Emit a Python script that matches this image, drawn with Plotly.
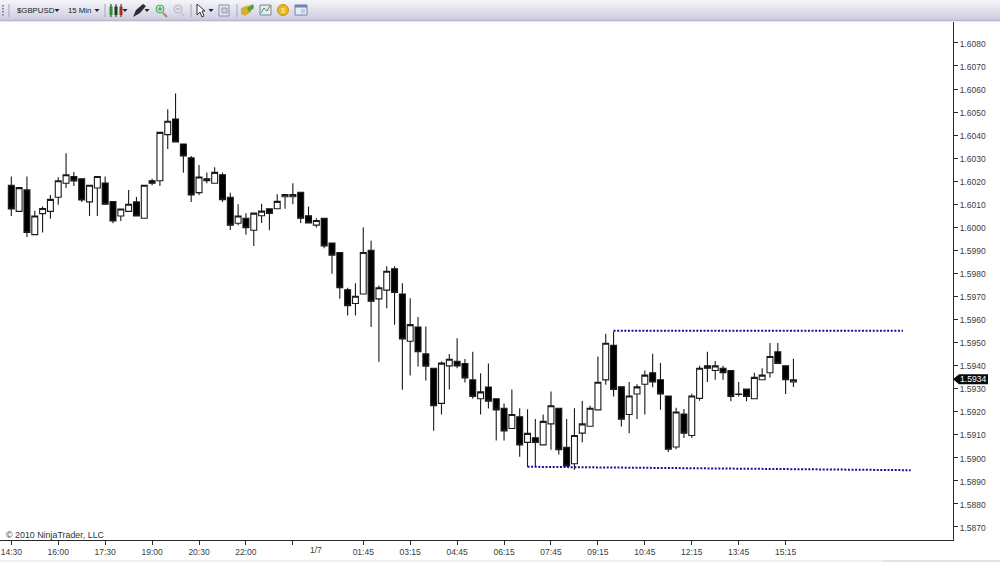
import plotly.graph_objects as go

# One value per 15-minute bar, starting at 14:30
bar_index = list(range(101))
open_prices = [
 1.60182,1.60069,1.60162,1.59968,1.60059,1.60069,1.60130,1.60191,1.60220,1.60210,
 1.60110,1.60170,1.60192,1.60111,1.60049,1.60069,1.60110,1.60039,1.60202,1.60202,
 1.60402,1.60470,1.60361,1.60301,1.60150,1.60210,1.60191,1.60228,1.60130,1.60017,
 1.60039,1.59987,1.60050,1.60080,1.60080,1.60132,1.60132,1.60152,1.60050,1.60009,
 1.60039,1.59931,1.59890,1.59728,1.59669,1.59710,1.59900,1.59689,1.59727,1.59820,
 1.59710,1.59505,1.59567,1.59450,1.59388,1.59235,1.59398,1.59418,1.59408,1.59337,
 1.59255,1.59306,1.59255,1.59214,1.59126,1.59177,1.59066,1.59086,1.59055,1.59146,
 1.59214,1.59045,1.58973,1.59106,1.59136,1.59207,1.59337,1.59487,1.59307,1.59187,
 1.59276,1.59318,1.59368,1.59338,1.59267,1.59046,1.59189,1.59096,1.59257,1.59398,
 1.59378,1.59388,1.59378,1.59276,1.59297,1.59255,1.59338,1.59368,1.59459,1.59398,
 1.59328]
high_prices = [
 1.60220,1.60172,1.60220,1.60071,1.60090,1.60140,1.60217,1.60321,1.60240,1.60210,
 1.60182,1.60220,1.60220,1.60111,1.60079,1.60162,1.60131,1.60182,1.60210,1.60412,
 1.60512,1.60581,1.60361,1.60309,1.60270,1.60238,1.60260,1.60238,1.60150,1.60100,
 1.60061,1.60061,1.60102,1.60080,1.60143,1.60143,1.60191,1.60152,1.60090,1.60039,
 1.60039,1.59931,1.59890,1.59737,1.59757,1.59999,1.59941,1.59747,1.59830,1.59830,
 1.59757,1.59692,1.59610,1.59569,1.59388,1.59417,1.59450,1.59518,1.59428,1.59459,
 1.59366,1.59408,1.59255,1.59235,1.59295,1.59214,1.59210,1.59167,1.59187,1.59287,
 1.59214,1.59167,1.59214,1.59245,1.59225,1.59439,1.59537,1.59547,1.59307,1.59328,
 1.59318,1.59378,1.59451,1.59410,1.59267,1.59216,1.59211,1.59277,1.59398,1.59459,
 1.59419,1.59398,1.59378,1.59328,1.59297,1.59368,1.59388,1.59497,1.59497,1.59398,
 1.59429]
low_prices = [
 1.60049,1.60069,1.59957,1.59968,1.59977,1.60037,1.60098,1.60170,1.60179,1.60110,
 1.60049,1.60049,1.60100,1.60017,1.60027,1.60069,1.60049,1.60039,1.60182,1.60179,
 1.60340,1.60370,1.60237,1.60110,1.60140,1.60191,1.60191,1.60110,1.59988,1.60009,
 1.59967,1.59919,1.60018,1.59987,1.60080,1.60080,1.60100,1.60018,1.60019,1.59999,
 1.59909,1.59798,1.59689,1.59617,1.59617,1.59710,1.59567,1.59416,1.59648,1.59577,
 1.59294,1.59356,1.59395,1.59334,1.59116,1.59187,1.59295,1.59388,1.59326,1.59255,
 1.59187,1.59213,1.59074,1.59074,1.59126,1.59003,1.58960,1.58961,1.59055,1.59034,
 1.59013,1.58960,1.58947,1.59066,1.59136,1.59207,1.59316,1.59265,1.59135,1.59105,
 1.59167,1.59187,1.59305,1.59208,1.59024,1.59036,1.59085,1.59085,1.59247,1.59328,
 1.59338,1.59338,1.59244,1.59265,1.59244,1.59255,1.59338,1.59348,1.59409,1.59276,
 1.59306]
close_prices = [
 1.60079,1.60172,1.59977,1.60049,1.60081,1.60121,1.60202,1.60228,1.60201,1.60118,
 1.60182,1.60220,1.60100,1.60027,1.60079,1.60100,1.60049,1.60182,1.60191,1.60412,
 1.60460,1.60370,1.60309,1.60140,1.60218,1.60202,1.60238,1.60120,1.60009,1.60049,
 1.59998,1.60061,1.60070,1.60060,1.60112,1.60142,1.60142,1.60039,1.60019,1.60029,
 1.59919,1.59879,1.59737,1.59659,1.59700,1.59890,1.59679,1.59737,1.59809,1.59717,
 1.59515,1.59577,1.59459,1.59397,1.59225,1.59410,1.59427,1.59398,1.59346,1.59265,
 1.59285,1.59245,1.59207,1.59116,1.59187,1.59055,1.59105,1.59066,1.59157,1.59225,
 1.59034,1.58964,1.59096,1.59146,1.59214,1.59327,1.59496,1.59296,1.59167,1.59267,
 1.59307,1.59358,1.59328,1.59276,1.59036,1.59198,1.59106,1.59267,1.59388,1.59388,
 1.59398,1.59368,1.59265,1.59274,1.59265,1.59348,1.59358,1.59439,1.59409,1.59338,
 1.59338]

x_tick_positions = [0, 6, 12, 18, 24, 30, 36, 45, 51, 57, 63, 69, 75, 81, 87, 93, 99]
x_tick_labels = ["14:30", "16:00", "17:30", "19:00", "20:30", "22:00", "", "01:45", "03:15",
                 "04:45", "06:15", "07:45", "09:15", "10:45", "12:15", "13:45", "15:15"]
date_label_position = 39
date_label = "1/7"
y_ticks = [1.5870, 1.5880, 1.5890, 1.5900, 1.5910, 1.5920, 1.5930, 1.5940, 1.5950, 1.5960, 1.5970,
           1.5980, 1.5990, 1.6000, 1.6010, 1.6020, 1.6030, 1.6040, 1.6050, 1.6060, 1.6070, 1.6080]

resistance_x = [77, 114]
resistance_y = [1.59550, 1.59550]
support_x = [66, 115]
support_y = [1.58960, 1.58945]
last_price = 1.5934

PLOT_R = 953.0
PLOT_T = 22.0
PLOT_B = 540.3
W, H = 1000, 562
FONT = "Liberation Sans"
TEXT = "#3c3c3c"


def px(x):
    return x / PLOT_R


def py(y):
    return (PLOT_B - y) / (PLOT_B - PLOT_T)


shapes = []
annotations = []


def rect(x0, y0, x1, y1, fill, line=None, lw=1):
    shapes.append(dict(type="rect", xref="paper", yref="paper", x0=px(x0), x1=px(x1),
                       y0=py(y0), y1=py(y1), fillcolor=fill, layer="above",
                       line=dict(color=line or fill, width=lw if line else 0)))


def seg(x0, y0, x1, y1, color, lw=1):
    shapes.append(dict(type="line", xref="paper", yref="paper", x0=px(x0), x1=px(x1),
                       y0=py(y0), y1=py(y1), layer="above", line=dict(color=color, width=lw)))


def poly(points, fill):
    path = "M" + " L".join(f"{px(a):.5f},{py(b):.5f}" for a, b in points) + " Z"
    shapes.append(dict(type="path", xref="paper", yref="paper", path=path, fillcolor=fill,
                       layer="above", line=dict(width=0)))


def circle(cx, cy, r, fill, line=None, lw=1):
    shapes.append(dict(type="circle", xref="paper", yref="paper", x0=px(cx - r), x1=px(cx + r),
                       y0=py(cy + r), y1=py(cy - r), fillcolor=fill, layer="above",
                       line=dict(color=line or fill, width=lw if line else 0)))


def label(x, y, text, size=8.3, color=TEXT, anchor="left"):
    annotations.append(dict(xref="paper", yref="paper", x=px(x), y=py(y), text=text, showarrow=False,
                            xanchor=anchor, yanchor="middle", xshift=0, align="left",
                            borderpad=0, font=dict(family=FONT, size=size, color=color)))


# Toolbar gradient
toolbar_colors = ["#f4f4f8", "#f2f2f7", "#f0f0f6", "#eeeef5", "#ececf4", "#eaeaf3", "#e8e8f1", "#e6e6f0",
                  "#e4e4ef", "#e2e2ee", "#e0e0ec", "#dedeeb", "#dcdcea", "#dadae8", "#d8d8e7", "#d6d6e5",
                  "#d4d4e4", "#d2d2e2", "#cfcfdf", "#c8c8d8", "#b8b8c8", "#e8e8ee"]
for k, c in enumerate(toolbar_colors):
    rect(0, k, W, k + 1, c)

# Bottom strip
rect(0, 560.6, W, H, "#ebebef")
rect(883, 560.6, W, H, "#dcdce4")

# Toolbar contents
for yy in (5, 8, 11, 14):
    rect(2, yy, 4, yy + 1.5, "#8c8c9c")
for sx in (9, 105, 191, 237):
    seg(sx, 4, sx, 17, "#a4a4b6")
label(16, 10.3, "$GBPUSD", 7.8, "#222222")
label(67, 10.3, "15 Min", 7.8, "#222222")
for tx in (57, 97, 125, 147, 211):
    poly([(tx - 2.5, 9), (tx + 2.5, 9), (tx, 12)], "#222222")
# candle icon
for cx, col in ((111, "#2f8f2f"), (116, "#1e3d1e"), (121, "#a53020")):
    seg(cx, 4, cx, 17, "#203020")
    rect(cx - 1.5, 6.5, cx + 1.5, 15, col)
# pen
poly([(133, 17), (136, 10), (143, 4), (146, 6), (140, 13)], "#2c2c34")
# magnifiers
seg(163, 13, 167, 17, "#d07a50", 2)
circle(160, 9, 4, "#b8e6c0", "#5aa070")
seg(158, 9, 162, 9, "#3a9a50")
seg(160, 7, 160, 11, "#3a9a50")
seg(181, 13, 184, 16, "#d0c8cc", 2)
circle(178, 9, 4, "#dfe0e8", "#b8b8c4")
seg(176, 9, 180, 9, "#a8a8b8")
# cursor
poly([(197, 4), (197, 15), (200, 12), (202, 17), (204, 16), (202, 11), (205, 11)], "#ffffff")
shapes[-1]["line"] = dict(color="#303038", width=1)
# box icon
rect(219, 5, 229, 16, "#e4e8f2", "#8090b0")
rect(222, 8, 227, 13, "#c8d0e4", "#a09098")
# folder
poly([(241, 8), (246, 6), (252, 5), (251, 12), (245, 16), (241, 14)], "#d8b030")
poly([(247, 8), (253, 4), (254, 8), (249, 12)], "#50a040")
# chart
rect(260, 5, 271, 15, "#e4ecf0", "#708898")
seg(261, 13, 264, 8, "#30a060")
seg(264, 8, 267, 11, "#30a060")
seg(267, 11, 270, 6, "#c05030")
# coin
circle(283, 10, 5.5, "#e8b820", "#c89010")
label(283, 10.3, "$", 7.5, "#fff2b0", "center")
# window
rect(295, 5, 307, 15, "#e8ecf6", "#7080a8")
rect(295, 5, 307, 7.5, "#6a84c0")
rect(301, 9, 305, 13, "#c0cce0")

# Last price tag
shapes.append(dict(type="path", xref="paper", yref="y", xsizemode="pixel", ysizemode="pixel",
                   xanchor=1, yanchor=last_price, path="M0,0 L6,-5 L35,-5 L35,5 L6,5 Z",
                   fillcolor="#0a0a0a", line=dict(width=0), layer="above"))
annotations.append(dict(xref="paper", yref="y", x=px(959), y=last_price, text=f"{last_price:.4f}",
                        showarrow=False, xanchor="left", yanchor="middle", borderpad=0,
                        font=dict(family=FONT, size=8.6, color="#ffffff")))

# Date label without a tick, and the copyright line
annotations.append(dict(xref="x", yref="paper", x=date_label_position, y=py(550.5), text=date_label,
                        showarrow=False, xanchor="center", yanchor="middle", borderpad=0,
                        font=dict(family=FONT, size=8.5, color=TEXT)))
label(5, 535.5, "© 2010 NinjaTrader, LLC", 8.9, "#333333")

fig = go.Figure()
for xs, ys in ((resistance_x, resistance_y), (support_x, support_y)):
    fig.add_trace(go.Scatter(x=xs, y=ys, mode="lines", hoverinfo="skip", showlegend=False,
                             line=dict(color="#10109a", width=2, dash="2px,1.6px")))
fig.add_trace(go.Candlestick(
    x=bar_index, open=open_prices, high=high_prices, low=low_prices, close=close_prices,
    whiskerwidth=0, showlegend=False,
    increasing=dict(fillcolor="#ffffff", line=dict(color="#1a1a1a", width=1.1)),
    decreasing=dict(fillcolor="#000000", line=dict(color="#1a1a1a", width=1.1)),
))

fig.update_layout(
    width=W, height=H, autosize=False,
    margin=dict(l=0, r=W - PLOT_R, t=PLOT_T, b=H - PLOT_B, pad=0),
    paper_bgcolor="#ffffff", plot_bgcolor="#ffffff", showlegend=False,
    boxgap=0.15, boxgroupgap=0.11,
    shapes=shapes, annotations=annotations,
    font=dict(family=FONT, size=8.5, color=TEXT),
    xaxis=dict(range=[-1.445, 120.4], rangeslider=dict(visible=False), showgrid=False, zeroline=False,
               showline=True, linecolor="#2a2a2a", linewidth=1, ticks="outside", ticklen=3.5, tickwidth=1,
               tickcolor="#2a2a2a", tickmode="array", tickvals=x_tick_positions, ticktext=x_tick_labels,
               tickangle=0, tickfont=dict(family=FONT, size=8.5, color=TEXT)),
    yaxis=dict(range=[1.58642, 1.60891], side="right", showgrid=False, zeroline=False,
               showline=True, linecolor="#2a2a2a", linewidth=1, ticks="outside", ticklen=4, tickwidth=1,
               tickcolor="#2a2a2a", tickmode="array", tickvals=y_ticks,
               ticktext=[f"{v:.4f}" for v in y_ticks], ticklabelshift=1,
               tickfont=dict(family=FONT, size=8.5, color=TEXT)),
)

fig.write_html("out.html", config=dict(displayModeBar=False),
               post_script="document.body.style.margin='0';document.body.style.overflow='hidden';")
